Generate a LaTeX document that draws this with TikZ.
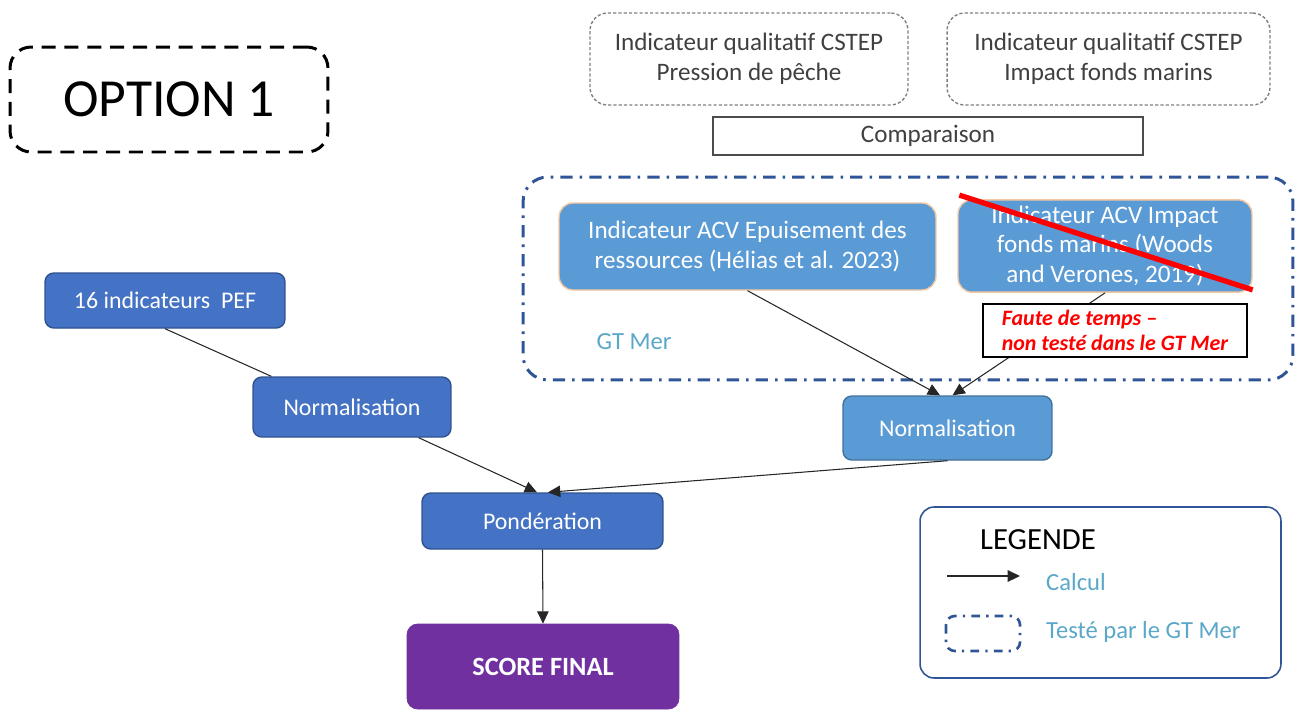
\documentclass[tikz,border=0pt]{standalone}
\usepackage{fontspec}
\setmainfont{Carlito}
\usetikzlibrary{arrows.meta}
\definecolor{dblue}{HTML}{4472C4}
\definecolor{dblueb}{HTML}{2F528F}
\definecolor{lblue}{HTML}{5B9BD5}
\definecolor{lblueb}{HTML}{41719C}
\definecolor{gtblue}{HTML}{2F5597}
\definecolor{teal}{HTML}{5AA7C8}
\definecolor{purp}{HTML}{7030A0}
\definecolor{tan}{HTML}{F4C7A0}
\definecolor{txtgray}{HTML}{404040}
\tikzset{
  lbl/.style={font=\fontsize{13.6}{16.5}\selectfont, align=center},
  biglbl/.style={font=\fontsize{14.3}{17}\selectfont, align=center},
  darkbox/.style={lbl, draw=dblueb, fill=dblue, text=white, rounded corners=5pt, line width=0.8pt},
  lightbox/.style={lbl, draw=lblueb, fill=lblue, text=white, rounded corners=5pt, line width=0.8pt},
  acvbox/.style={biglbl, draw=tan, fill=lblue, text=white, rounded corners=8pt, line width=0.8pt},
  cstepbox/.style={biglbl, draw=gray, dash pattern=on 1.8pt off 1.2pt, rounded corners=10pt, line width=0.8pt, text=txtgray},
  gtline/.style={draw=gtblue, line width=1.7pt, dash pattern=on 7pt off 4pt on 1.5pt off 4pt},
  calc/.style={-{Triangle[length=7pt,width=6.5pt]}, line width=0.6pt, draw=black!85},
  plainline/.style={line width=0.6pt, draw=black!85},
}
\begin{document}
\begin{tikzpicture}[x=0.02cm,y=-0.02cm]
\useasboundingbox (0,0) rectangle (1297,711);
% OPTION 1
\node[draw=black, line width=1.7pt, dash pattern=on 8pt off 5pt, rounded corners=12pt,
      minimum width=6.36cm, minimum height=2.1cm, font=\fontsize{30.5}{33}\selectfont] (opt) at (169,99.5) {OPTION 1};
% CSTEP boxes
\node[cstepbox, minimum width=6.36cm, minimum height=1.84cm] (cs1) at (749,59) {Indicateur qualitatif CSTEP\\Pression de pêche};
\node[cstepbox, minimum width=6.46cm, minimum height=1.84cm] (cs2) at (1108.5,59) {Indicateur qualitatif CSTEP\\Impact fonds marins};
\node[biglbl, draw=black!70, line width=0.8pt, minimum width=8.6cm, minimum height=0.76cm, text=txtgray] (comp) at (928,136) {Comparaison};
% GT Mer group
\node[gtline, rounded corners=14pt, minimum width=15.4cm, minimum height=4.06cm] (gt) at (908,278.5) {};
\node[acvbox, minimum width=7.54cm, minimum height=1.74cm] (acv1) at (747.5,246.5) {Indicateur ACV Epuisement des\\ressources (Hélias et al. 2023)};
\node[acvbox, minimum width=5.88cm, minimum height=1.76cm] (acv2) at (1105,246) {Indicateur ACV Impact\\fonds marins (Woods\\and Verones, 2019)};
\node[lbl, text=teal, font=\fontsize{14}{16}\selectfont] (gtlbl) at (634,342) {GT Mer};
% Normalisations
\node[lightbox, minimum width=4.18cm, minimum height=1.28cm] (norm2) at (947.5,428) {Normalisation};
\node[darkbox, minimum width=4.8cm, minimum height=1.1cm] (pef) at (165,300.5) {16 indicateurs~ PEF};
\node[darkbox, minimum width=3.96cm, minimum height=1.2cm] (norm1) at (352,407) {Normalisation};
\node[darkbox, minimum width=4.82cm, minimum height=1.12cm] (pond) at (542.5,521) {Pondération};
\node[lbl, draw=purp, fill=purp, text=white, rounded corners=6pt, minimum width=5.44cm, minimum height=1.7cm, font=\fontsize{15}{17}\selectfont\bfseries] (score) at (543,666.5) {SCORE FINAL};
% connectors
\draw[plainline] (pef.south) -- ([xshift=0.38cm]norm1.north west);
\draw[calc] ([xshift=-0.66cm]norm1.south east) -- ([xshift=-0.11cm]pond.north);
\draw[calc] (norm2.south) -- ([xshift=0.11cm]pond.north);
\draw[calc] (acv1.south) -- ([xshift=-0.15cm]norm2.north);
\draw[calc] (acv2.south) -- ([xshift=0.1cm]norm2.north);
\draw[calc] (pond.south) -- (score.north);
% crossed out
\draw[red, line width=3pt] ([shift={(0.04cm,0.08cm)}]acv2.north west) -- ([yshift=0.06cm]acv2.south east);
% faute
\node[draw=black, line width=1.1pt, fill=white, minimum width=5.28cm, minimum height=1.06cm, align=left,
      text=red, font=\fontsize{12.5}{14}\selectfont\bfseries\itshape] (faute) at (1115,330.5) {Faute de temps --\\non testé dans le GT Mer};
% legend
\node[draw=gtblue, line width=0.9pt, rounded corners=8pt, minimum width=7.22cm, minimum height=3.42cm] (leg) at (1100.5,592.5) {};
\node[font=\fontsize{17.5}{20}\selectfont, text=black] (legt) at (1038,540) {LEGENDE};
\coordinate (la) at (947,576);
\coordinate (lb) at (1020,576);
\draw[calc, line width=0.9pt] (la) -- (lb);
\node[anchor=west, text=teal, font=\fontsize{14}{16}\selectfont] (lcalc) at (1040,582) {Calcul};
\draw[gtline, line width=1.5pt, dash pattern=on 5pt off 3.5pt on 1.3pt off 3.5pt, rounded corners=5pt] (946,616) rectangle (1020,651);
\node[anchor=west, text=teal, font=\fontsize{14}{16}\selectfont] (ltest) at (1040,632) {Testé par le GT Mer};
\end{tikzpicture}
\end{document}
